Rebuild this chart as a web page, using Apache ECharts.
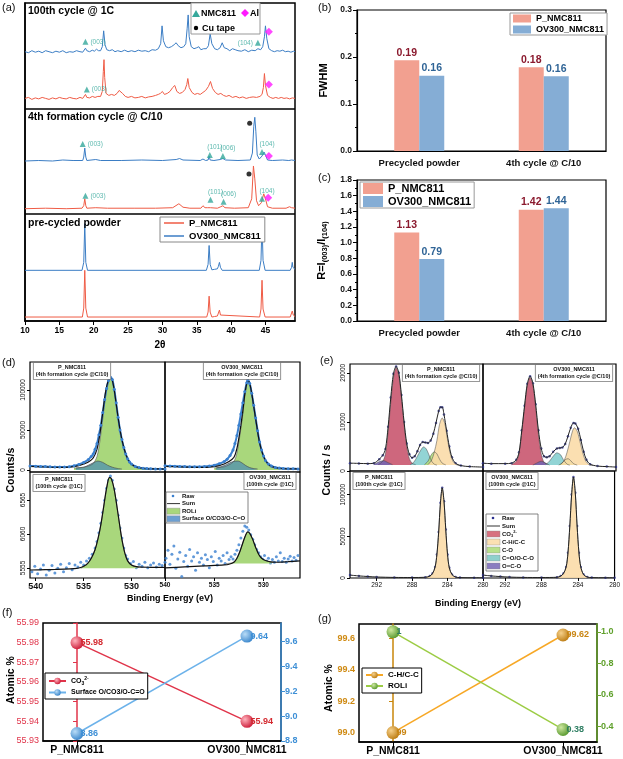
<!DOCTYPE html>
<html>
<head>
<meta charset="utf-8">
<title>NMC811 XRD / XPS</title>
<script src="https://cdn.jsdelivr.net/npm/echarts@6.0.0/dist/echarts.min.js"></script>
<style>
  body { margin: 0; background: #fff; }
  #wrap { position: relative; width: 623px; height: 759px; overflow: hidden; }
  .panel { position: absolute; }
</style>
</head>
<body>
<div id="wrap">
  <div class="panel" id="pa" style="left:0;top:0;width:300px;height:355px"></div>
  <div class="panel" id="pb" style="left:300px;top:0;width:323px;height:175px"></div>
  <div class="panel" id="pc" style="left:300px;top:170px;width:323px;height:175px"></div>
  <div class="panel" id="pd" style="left:0;top:355px;width:310px;height:262px"></div>
  <div class="panel" id="pe" style="left:310px;top:355px;width:313px;height:262px"></div>
  <div class="panel" id="pf" style="left:0;top:605px;width:310px;height:154px"></div>
  <div class="panel" id="pg" style="left:310px;top:605px;width:313px;height:154px"></div>
</div>
<script>
'use strict';

var FONT = 'Liberation Sans';

// ---------- (a) XRD patterns, [2theta, intensity a.u. above own baseline] ----------
var xrd100OV = [[10.0,1],[10.5,0],[11.0,2],[11.5,0.5],[12.0,1.5],[12.5,0],[13.0,2],[13.5,1],[14.0,0],[14.5,1.5],[15.0,0.5],[15.5,2],[16.0,0],[16.5,1],[17.0,0.5],[17.5,2],[18.0,1],[18.4,0.5],[18.6,2],[18.8,4.5],[19.0,2],[19.4,1],[19.8,2.5],[20.1,1.5],[20.4,3.5],[20.7,2],[21.0,2],[21.25,6],[21.45,22],[21.65,8],[21.9,3],[22.3,2],[22.7,3],[23.1,1],[23.5,2],[24.0,1],[24.5,2.5],[25.0,1],[25.5,2],[26.0,1],[26.5,2.5],[27.0,1.5],[27.5,2],[28.0,1],[28.5,3],[29.0,2.5],[29.4,4],[29.75,9],[29.95,27],[30.15,12],[30.5,6],[30.9,5],[31.3,6],[31.7,8],[32.0,10],[32.3,7],[32.7,5],[33.1,6],[33.4,9],[33.6,24],[33.75,38],[33.9,16],[34.2,6],[34.6,4],[35.0,5],[35.3,6],[35.6,3],[36.0,4],[36.4,4],[36.7,7],[36.95,19],[37.2,9],[37.6,4],[38.0,3],[38.4,5],[38.7,10],[39.0,5],[39.4,4],[39.8,2],[40.2,4],[40.6,3],[41.0,2],[41.5,1.5],[42.0,3],[42.5,1],[43.0,2.5],[43.5,2],[43.9,4],[44.3,3],[44.6,6],[44.85,16],[45.0,27],[45.2,14],[45.5,4],[45.9,2],[46.3,1],[46.7,2],[47.1,1.5],[47.5,2.5],[47.9,1],[48.3,1.5],[48.7,0.5],[49.1,1.5],[49.3,1]];
var xrd100P = [[10.0,1],[10.5,2],[11.0,0],[11.5,1.5],[12.0,0.5],[12.5,2],[13.0,1],[13.5,0],[14.0,1.5],[14.5,0.5],[15.0,2],[15.5,1],[16.0,0.5],[16.5,2],[17.0,1],[17.5,0.5],[18.0,2],[18.4,1],[18.6,2],[18.8,5],[19.0,2],[19.4,1.5],[19.8,3],[20.2,2],[20.6,3],[21.0,3],[21.25,8],[21.4,28],[21.5,40],[21.6,22],[21.8,6],[22.2,4],[22.6,5],[23.0,4],[23.4,6],[23.7,9],[23.9,10],[24.2,6],[24.6,3],[25.0,2],[25.5,3],[26.0,1.5],[26.5,2],[27.0,3],[27.5,1.5],[28.0,2.5],[28.5,3],[29.0,4],[29.4,5],[29.7,6],[30.0,8],[30.3,5],[30.7,6],[31.1,8],[31.5,12],[31.8,14],[32.1,8],[32.5,6],[32.9,7],[33.3,10],[33.55,15],[33.7,21],[33.9,12],[34.3,7],[34.7,5],[35.1,6],[35.5,5],[35.9,7],[36.3,9],[36.7,13],[37.0,18],[37.3,11],[37.7,7],[38.1,5],[38.5,6],[38.9,4],[39.3,3],[39.7,4],[40.2,2],[40.7,3],[41.2,1.5],[41.7,2.5],[42.2,1],[42.7,2],[43.2,2.5],[43.7,2],[44.2,3],[44.5,5],[44.7,12],[44.85,26],[45.0,14],[45.3,4],[45.7,2],[46.1,1],[46.5,2],[46.9,1],[47.3,2],[47.7,1],[48.1,1.5],[48.5,0.5],[48.9,1.5],[49.3,1]];
var xrd4thOV = [[10,0],[12,0.5],[14,0],[15.5,1],[17,0.5],[18.4,0.5],[18.55,4],[18.7,13],[18.85,4],[19.0,0.5],[20.3,1.5],[21,0.5],[24,0.5],[27,1],[30,0.5],[32,1.5],[32.5,2.5],[33,1],[35.5,0.5],[35.9,2],[36.3,0.5],[36.65,1],[36.8,5],[36.95,1],[37.5,0.5],[38.4,1.5],[38.8,2.5],[39.2,1],[41,0.5],[42.8,1],[43.1,8],[43.3,35],[43.45,44],[43.6,30],[43.8,6],[44.1,2],[44.5,5],[44.8,9],[45.0,6],[45.3,1],[46,0.5],[47.5,1],[48.4,0.5],[48.6,2],[48.8,1],[49.3,0.5]];
var xrd4thP = [[10,0],[13,0.5],[16,0],[18.3,0.5],[18.55,3],[18.7,10],[18.85,3],[19.0,0.5],[20.3,1],[22,0.5],[26,0.5],[29,0.5],[31.5,1],[32.4,5],[33,1.5],[34,0.5],[35.6,0.5],[35.9,3],[36.2,1],[36.6,1],[36.8,3],[37.0,1],[38.0,0.5],[38.5,2],[38.8,3],[39.1,1],[40.5,0.5],[42.5,1],[43.0,10],[43.25,43],[43.45,30],[43.7,8],[44.0,3],[44.4,6],[44.75,15],[45.0,10],[45.3,2],[46,0.5],[48,0.5],[48.5,2],[48.8,1],[49.3,0.5]];
var xrdPreOV = [[10,0],[18.3,0],[18.55,8],[18.7,47],[18.85,8],[19.1,0],[36.4,0],[36.65,6],[36.8,25],[36.95,6],[37.2,0.5],[37.6,1],[37.8,3],[38.0,1.5],[38.15,4],[38.3,8],[38.45,3],[38.7,0],[44.1,0],[44.35,10],[44.5,48],[44.65,10],[44.95,0],[48.6,0],[48.8,3],[48.9,8],[49.0,3],[49.3,1]];
var xrdPreP = [[10,0],[18.35,0],[18.55,9],[18.7,47],[18.85,9],[19.1,0],[36.45,0],[36.65,5],[36.8,21],[36.95,5],[37.2,0],[37.6,0.5],[37.8,2],[38.0,1],[38.15,3],[38.3,7],[38.45,2],[38.7,0],[44.15,0],[44.35,8],[44.5,37],[44.65,8],[44.95,0],[48.6,0],[48.8,2],[48.9,6],[49.05,2],[49.3,0.5]];
var xrdTraces = [xrd100OV, xrd100P, xrd4thOV, xrd4thP, xrdPreOV, xrdPreP];
var xrdNames = ['OV300_NMC811', 'P_NMC811', 'OV300_NMC811', 'P_NMC811', 'OV300_NMC811', 'P_NMC811'];
var xrdOffsets = [270, 223, 161, 113, 51, 4];
var xrdSectionEdges = [214, 108];
var xrdTitles = ['100th cycle @ 1C', '4th formation cycle @ C/10', 'pre-cycled powder'];

// reflection markers [2theta, stacked intensity]
var nmcMarks = [[18.8,281],[43.9,280],[19.0,233],[18.4,178],[36.9,167],[38.8,166],[44.5,170],[18.8,126],[37.0,122],[38.9,120],[44.5,123]];
var nmcLabels = ['(003)','(104)','(003)','(003)','(101)','(006)','(104)','(003)','(101)','(006)','(104)'];
var nmcLabelPos = ['right','left','right','right','top','top','top','right','top','top','top'];
var alMarks = [[45.5,291],[45.5,238],[45.5,166],[45.4,124]];
var cuMarks = [[42.7,199],[42.6,148]];

// ---------- (b), (c) bars ----------
var barCats = ['Precycled powder', '4th cycle @ C/10'];
var fwhmP = [0.193, 0.178];
var fwhmOV = [0.160, 0.159];
var ratioP = [1.13, 1.42];
var ratioOV = [0.79, 1.44];

// ---------- (d) O 1s, [eV, counts/s] ----------
var dSumP4 = [[540.6,4500],[539.5,4000],[538.5,3500],[537.5,3200],[536.5,3500],[536,4200],[535.5,5500],[535,7500],[534.5,10000],[534,15000],[533.6,26000],[533.3,45000],[533,72000],[532.7,98000],[532.4,113000],[532.2,116000],[532,112000],[531.8,100000],[531.6,83000],[531.3,58000],[531,38000],[530.6,20000],[530.2,10000],[529.8,5500],[529.3,3000],[528.5,1800],[527.5,1400],[526.5,1200]];
var dRoliP4 = [[536,2500],[535,3500],[534.5,5000],[534,8000],[533.6,17000],[533.3,36000],[533,64000],[532.7,93000],[532.4,111000],[532.2,115000],[532,111000],[531.8,99000],[531.6,82000],[531.3,57000],[531,37000],[530.6,19000],[530.2,9000],[529.8,4500],[529.3,2200],[528.5,1200],[528,1000]];
var dSurfP4 = [[535.8,2500],[535,3500],[534.5,6000],[534,9000],[533.5,11200],[533,9500],[532.5,6000],[532,3500],[531.5,2000],[531,1200]];
var dRawP4 = [[540.6,5000],[540,4800],[539.5,4500],[539,4300],[538.5,4000],[538,3800],[537.5,3700],[537,3800],[536.5,4200],[536,5200],[535.5,7000],[535,9500],[534.5,13000],[534.2,17000],[534,20000],[533.8,26000],[533.6,33000],[533.4,44000],[533.2,56000],[533,72000],[532.8,88000],[532.6,102000],[532.4,112000],[532.2,116000],[532,113000],[531.8,101000],[531.6,84000],[531.4,66000],[531.2,50000],[531,38000],[530.8,28000],[530.6,20000],[530.4,14000],[530.2,10000],[530,7500],[529.6,4500],[529.2,3000],[528.8,2300],[528.4,1900],[528,1600],[527.5,1400],[527,1300],[526.5,1200]];

var dSumOV4 = [[540,4500],[539,4200],[538,3700],[537,3400],[536,3300],[535.5,3600],[535,4300],[534.5,5500],[534,7500],[533.5,10500],[533,16000],[532.7,27000],[532.4,48000],[532.1,74000],[531.9,95000],[531.7,109000],[531.6,112000],[531.4,108000],[531.2,96000],[531,80000],[530.7,56000],[530.4,34000],[530,17000],[529.6,8500],[529.2,4500],[528.6,2500],[528,1800],[527,1400],[526.3,1200]];
var dRoliOV4 = [[535,2500],[534,4000],[533.5,6500],[533,11000],[532.7,21000],[532.4,43000],[532.1,70000],[531.9,92000],[531.7,107000],[531.6,111000],[531.4,107000],[531.2,95000],[531,79000],[530.7,55000],[530.4,33000],[530,16000],[529.6,7500],[529.2,3500],[528.6,1800],[528,1000]];
var dSurfOV4 = [[534.8,2500],[534,5500],[533.5,8500],[533,10800],[532.6,11200],[532.2,9000],[531.8,5500],[531.4,3000],[531,1800],[530.6,1200]];
var dRawOV4 = [[540,5200],[539.5,5000],[539,4800],[538.5,4500],[538,4300],[537.5,4100],[537,4000],[536.5,4100],[536,4300],[535.5,4900],[535,6000],[534.5,7800],[534,10500],[533.7,13500],[533.4,18000],[533.1,25000],[532.9,33000],[532.7,43000],[532.5,56000],[532.3,70000],[532.1,84000],[531.9,98000],[531.7,109000],[531.6,112500],[531.4,108000],[531.2,96000],[531,81000],[530.8,65000],[530.6,49000],[530.4,35000],[530.2,25000],[530,17500],[529.8,12000],[529.5,7500],[529.2,5000],[528.8,3200],[528.4,2400],[528,2000],[527.5,1700],[527,1500],[526.5,1300]];

var dSumP100 = [[540.6,5525],[539,5530],[538,5533],[537,5537],[536,5545],[535.5,5555],[535,5580],[534.6,5620],[534.2,5700],[533.8,5830],[533.5,5990],[533.2,6200],[532.9,6470],[532.6,6740],[532.3,6900],[532.1,6880],[531.8,6720],[531.5,6450],[531.2,6160],[531,5980],[530.7,5780],[530.4,5660],[530,5600],[529.5,5575],[529,5568],[528,5565],[527,5563],[526.5,5562]];
var dRoliP100 = [[535.3,5550],[535,5575],[534.6,5615],[534.2,5695],[533.8,5825],[533.5,5985],[533.2,6195],[532.9,6465],[532.6,6735],[532.3,6895],[532.1,6875],[531.8,6715],[531.5,6445],[531.2,6155],[531,5975],[530.7,5775],[530.4,5655],[530,5595],[529.5,5570],[529.2,5563]];
var dRawP100 = [[540.4,5500],[540.1,5580],[539.8,5470],[539.5,5540],[539.2,5600],[538.9,5450],[538.6,5520],[538.3,5590],[538,5480],[537.7,5550],[537.4,5610],[537.1,5500],[536.8,5560],[536.5,5620],[536.2,5530],[535.9,5600],[535.6,5570],[535.3,5640],[535,5600],[534.7,5660],[534.4,5700],[534.1,5760],[533.8,5850],[533.6,5950],[533.4,6080],[533.2,6220],[533,6380],[532.8,6560],[532.6,6740],[532.4,6860],[532.2,6920],[532,6860],[531.8,6730],[531.6,6560],[531.4,6340],[531.2,6150],[531,6000],[530.8,5850],[530.6,5740],[530.4,5690],[530.1,5620],[529.8,5650],[529.5,5560],[529.2,5610],[528.9,5580],[528.6,5640],[528.3,5560],[528,5600],[527.7,5630],[527.4,5570],[527.1,5610],[526.8,5590],[526.5,5640]];

var dSumOV100 = [[540,5555],[538,5570],[536,5585],[534,5600],[533.5,5610],[533,5640],[532.7,5700],[532.4,5800],[532.1,5930],[531.8,6050],[531.6,6090],[531.4,6070],[531.1,5980],[530.8,5860],[530.5,5760],[530.2,5700],[529.8,5665],[529.3,5645],[528.5,5640],[527.5,5648],[526.3,5660]];
var dRoliOV100 = [[533.8,5620],[533.3,5628],[533,5645],[532.7,5700],[532.4,5800],[532.1,5930],[531.8,6050],[531.6,6090],[531.4,6070],[531.1,5980],[530.8,5860],[530.5,5760],[530.2,5700],[529.8,5665],[529.3,5645],[529,5640]];
var dRawOV100 = [[539.9,5700],[539.7,5820],[539.5,5610],[539.3,5760],[539.1,5880],[538.9,5550],[538.7,5690],[538.5,5790],[538.3,5430],[538.1,5650],[537.9,5740],[537.7,5580],[537.5,5830],[537.3,5660],[537.1,5720],[536.9,5520],[536.7,5780],[536.5,5640],[536.3,5700],[536.1,5600],[535.9,5750],[535.7,5680],[535.5,5560],[535.3,5720],[535.1,5650],[534.9,5800],[534.7,5600],[534.5,5700],[534.3,5660],[534.1,5740],[533.9,5620],[533.7,5780],[533.5,5680],[533.3,5720],[533.1,5690],[532.9,5760],[532.7,5820],[532.5,5900],[532.3,6000],[532.1,6100],[531.9,6180],[531.7,6160],[531.5,6120],[531.3,6050],[531.1,5980],[530.9,5900],[530.7,5830],[530.5,5780],[530.3,5720],[530.1,5690],[529.9,5740],[529.7,5660],[529.5,5700],[529.3,5630],[529.1,5680],[528.9,5640],[528.7,5720],[528.5,5660],[528.3,5780],[528.1,5650],[527.9,5700],[527.7,5640],[527.5,5690],[527.3,5730],[527.1,5660],[526.9,5710],[526.7,5670],[526.5,5740]];

var dTitles = ['P_NMC811\n(4th formation cycle @C/10)', 'OV300_NMC811\n(4th formation cycle @C/10)', 'P_NMC811\n(100th cycle @1C)', 'OV300_NMC811\n(100th cycle @1C)'];

// ---------- (e) C 1s, [eV, counts/s] ----------
var eCO3P4 = [[291.8,1300],[291.3,2000],[291,3500],[290.7,8000],[290.4,14000],[290.1,19000],[289.8,21000],[289.5,19500],[289.2,15000],[288.9,9500],[288.6,5000],[288.3,2500],[288,1600],[287.6,1300]];
var eOCOP4 = [[292.3,1300],[291.7,1900],[291.2,2100],[290.7,1700],[290.2,1300]];
var eCOOP4 = [[288.2,1300],[287.8,1800],[287.4,3000],[287,4300],[286.7,4900],[286.4,4500],[286.1,3300],[285.8,2000],[285.5,1400],[285.2,1200]];
var eCOP4 = [[286.6,1300],[286.2,2000],[285.9,3100],[285.5,3900],[285.2,3500],[284.9,2400],[284.6,1600],[284.2,1250]];
var eCHP4 = [[286.2,1300],[285.8,2200],[285.5,3800],[285.2,6200],[284.9,9500],[284.6,10800],[284.3,9600],[284,6400],[283.7,3600],[283.4,2000],[283,1300],[282.5,1100]];
var eSumP4 = [[295,1600],[294,1550],[293,1500],[292.3,1600],[291.7,2400],[291.3,3200],[291,4500],[290.7,9000],[290.4,15000],[290.1,19800],[289.8,21300],[289.5,20000],[289.2,15500],[288.9,10000],[288.6,5600],[288.3,3400],[288,2700],[287.7,3000],[287.4,4000],[287.1,5300],[286.8,5900],[286.5,5800],[286.2,5700],[285.9,6200],[285.6,7600],[285.3,9800],[285,12200],[284.8,13000],[284.6,13000],[284.4,11500],[284.1,8200],[283.8,5000],[283.5,2800],[283.1,1600],[282.5,1100],[281.5,900],[280,800]];

var eCO3OV4 = [[291.3,1300],[290.8,2000],[290.5,3500],[290.2,8000],[289.9,13000],[289.6,17500],[289.3,19000],[289,17500],[288.7,13000],[288.4,7500],[288.1,3500],[287.8,1800],[287.4,1300]];
var eOCOOV4 = [[289,1200],[288.5,1700],[288.1,2000],[287.7,1700],[287.2,1200]];
var eCOOOV4 = [[287.6,1300],[287.2,2000],[286.8,3000],[286.4,3700],[286,3300],[285.7,2300],[285.3,1400],[285,1200]];
var eCOOV4 = [[286.2,1200],[285.8,1700],[285.5,2300],[285.2,2500],[284.9,2100],[284.6,1500],[284.2,1200]];
var eCHOV4 = [[286,1300],[285.6,2200],[285.3,3800],[285,6000],[284.7,8200],[284.5,8800],[284.2,8100],[283.9,6000],[283.6,3700],[283.3,2100],[282.9,1300],[282.4,1100]];
var eSumOV4 = [[294.4,1600],[293.5,1500],[292,1500],[291.3,1600],[290.8,2300],[290.5,3800],[290.2,8300],[289.9,13300],[289.6,17800],[289.3,19300],[289,17900],[288.7,13600],[288.4,8300],[288.1,4600],[287.8,3000],[287.5,2800],[287.2,3000],[286.8,3900],[286.4,4600],[286.1,4700],[285.8,4800],[285.5,5500],[285.2,7100],[284.9,8800],[284.6,9800],[284.4,9700],[284.1,8600],[283.8,6300],[283.5,3900],[283.2,2300],[282.8,1400],[282,1000],[281,900],[280,800]];

var eCHP100 = [[286.5,500],[286,2000],[285.7,5000],[285.4,13000],[285.2,28000],[285,55000],[284.8,90000],[284.6,108000],[284.4,92000],[284.2,58000],[284,28000],[283.8,12000],[283.5,4000],[283.1,1000],[282.6,300]];
var eSumP100 = [[295,3500],[294,2500],[293,1800],[292,1200],[290,700],[288,600],[286.5,900],[286,2300],[285.7,5300],[285.4,13300],[285.2,28300],[285,55300],[284.8,90300],[284.6,108300],[284.4,92300],[284.2,58300],[284,28300],[283.8,12300],[283.5,4300],[283.1,1200],[282.6,500],[281,300],[280,300]];
var eCHOV100 = [[286.3,500],[285.9,2000],[285.6,5000],[285.3,13000],[285.1,30000],[284.9,62000],[284.7,100000],[284.5,121000],[284.3,102000],[284.1,62000],[283.9,30000],[283.7,13000],[283.4,4000],[283,1000],[282.5,300]];
var eSumOV100 = [[294.4,3500],[293.5,2500],[292.5,1700],[291.5,1100],[290,700],[288,600],[286.3,900],[285.9,2300],[285.6,5300],[285.3,13300],[285.1,30300],[284.9,62300],[284.7,100300],[284.5,121300],[284.3,102300],[284.1,62300],[283.9,30300],[283.7,13300],[283.4,4300],[283,1200],[282.5,500],[281,300],[280,300]];

// ---------- (f), (g) atomic % ----------
var sampleCats = ['P_NMC811', 'OV300_NMC811'];
var fCO3 = [55.98, 55.94];
var fSurface = [8.86, 9.64];
var gCH = [99, 99.62];
var gROLi = [1, 0.38];

// ---------------- helpers ----------------
function shift(arr, off) {
  return arr.map(function (p) { return [p[0], p[1] + off]; });
}
function pairs(vals) {
  return vals.map(function (v, i) { return [i, v]; });
}
function plain(v) { return String(v); }
function sphere(c1, c2) {
  return {type: 'radial', x: 0.35, y: 0.35, r: 0.75, colorStops: [{offset: 0, color: c1}, {offset: 1, color: c2}]};
}
function txt(x, y, text, font, color, extra) {
  var s = {text: text, font: font, fill: color || '#000'};
  for (var k in (extra || {})) s[k] = extra[k];
  return {type: 'text', x: x, y: y, style: s, silent: true, z: 20};
}
function boxTitle(cx, top, text, font) {
  return txt(cx, top, text, font, '#111', {align: 'center', verticalAlign: 'top', backgroundColor: '#fff',
    borderColor: '#777', borderWidth: 0.8, padding: [1, 2], lineHeight: 7});
}
function legendBox(x, y, w, h, rows, step, font) {
  var els = [{type: 'rect', shape: {x: x, y: y, width: w, height: h}, style: {fill: '#fff', stroke: '#666', lineWidth: 0.8}, z: 20}];
  rows.forEach(function (r, i) {
    var cy = y + 4 + step * i;
    if (r.kind === 'dot') {
      els.push({type: 'circle', shape: {cx: x + 7, cy: cy, r: 1.3}, style: {fill: r.color}, z: 21});
    } else if (r.kind === 'line') {
      els.push({type: 'line', shape: {x1: x + 1, y1: cy, x2: x + 14, y2: cy}, style: {stroke: r.color, lineWidth: 1}, z: 21});
    } else {
      els.push({type: 'rect', shape: {x: x + 1, y: cy - 3, width: 13, height: 6}, style: {fill: r.color, stroke: '#888', lineWidth: 0.4}, z: 21});
    }
    els.push(txt(x + 16, cy, r.text, font, '#111', {verticalAlign: 'middle', rich: r.rich || {}}));
  });
  return els;
}
var rotTitle = function (x, y, text, size) {
  var t = txt(x, y, text, 'bold ' + size + 'px ' + FONT, '#000', {align: 'center', verticalAlign: 'middle'});
  t.rotation = Math.PI / 2;
  return t;
};
var panelLabel = function (x, y, text) {
  return txt(x, y, text, '11px ' + FONT, '#111', {verticalAlign: 'top'});
};

// ---------------- (a) ----------------
var chartA = echarts.init(document.getElementById('pa'));
var seriesA = xrdTraces.map(function (t, i) {
  var c = xrdNames[i] === 'P_NMC811' ? '#ef5b45' : '#3b7dc4';
  return {type: 'line', name: xrdNames[i], data: shift(t, xrdOffsets[i]), symbol: 'none',
    lineStyle: {width: 1, color: c}, itemStyle: {color: c}, silent: true};
});
seriesA[0].markLine = {silent: true, symbol: 'none', label: {show: false},
  lineStyle: {color: '#000', width: 1.5, type: 'solid'},
  data: xrdSectionEdges.map(function (v) { return {yAxis: v}; })};
seriesA.push({
  type: 'scatter', name: 'NMC811', symbol: 'triangle', symbolSize: 6, itemStyle: {color: '#35a89b'}, z: 5,
  data: nmcMarks.map(function (p, i) {
    var pos = nmcLabelPos[i];
    return {value: p, label: {show: true, formatter: nmcLabels[i], position: pos,
      offset: pos === 'top' ? [5, 1] : [0, 0]}};
  }),
  label: {color: '#35a89b', fontSize: 6.5, fontFamily: FONT, distance: 2}
});
seriesA.push({type: 'scatter', name: 'Al', symbol: 'diamond', symbolSize: 8, itemStyle: {color: '#ff1aff'}, data: alMarks, z: 5});
seriesA.push({type: 'scatter', name: 'Cu tape', symbol: 'circle', symbolSize: 5, itemStyle: {color: '#000'}, data: cuMarks, z: 5});

var graphicA = [panelLabel(2, 2, '(a)')];
[6, 112, 218].forEach(function (y, i) {
  graphicA.push(txt(28, y, xrdTitles[i], 'bold 10.5px ' + FONT, '#000', {verticalAlign: 'top'}));
});
graphicA.push({type: 'rect', shape: {x: 191, y: 3, width: 69, height: 31}, style: {fill: '#fff', stroke: '#999', lineWidth: 1}, z: 20});
graphicA.push({type: 'polygon', shape: {points: [[196, 10], [200, 17], [192, 17]]}, style: {fill: '#35a89b'}, z: 21});
graphicA.push(txt(201, 13.5, 'NMC811', 'bold 9px ' + FONT, '#000', {verticalAlign: 'middle'}));
graphicA.push({type: 'polygon', shape: {points: [[245, 9], [249, 13], [245, 17], [241, 13]]}, style: {fill: '#ff1aff'}, z: 21});
graphicA.push(txt(250, 13.5, 'Al', 'bold 9px ' + FONT, '#000', {verticalAlign: 'middle'}));
graphicA.push({type: 'circle', shape: {cx: 196, cy: 28, r: 2.2}, style: {fill: '#000'}, z: 21});
graphicA.push(txt(202, 28.5, 'Cu tape', 'bold 9px ' + FONT, '#000', {verticalAlign: 'middle'}));

chartA.setOption({
  animation: false,
  grid: {left: 25, right: 5, top: 3, bottom: 32, show: true, borderColor: '#000', borderWidth: 1.5},
  xAxis: {type: 'value', min: 10, max: 49.3, interval: 5,
    axisLine: {lineStyle: {color: '#000', width: 1.5}}, axisTick: {length: 4, lineStyle: {color: '#000'}},
    axisLabel: {showMaxLabel: false, color: '#000', fontWeight: 'bold', fontSize: 8.5, fontFamily: FONT, margin: 5},
    splitLine: {show: false},
    name: '2θ', nameLocation: 'middle', nameGap: 19,
    nameTextStyle: {fontWeight: 'bold', fontSize: 10, color: '#000', fontFamily: FONT}},
  yAxis: {type: 'value', min: 0, max: 320, axisLabel: {show: false}, axisTick: {show: false},
    axisLine: {show: true, lineStyle: {color: '#000', width: 1.5}}, splitLine: {show: false}},
  legend: {data: ['P_NMC811', 'OV300_NMC811'], orient: 'vertical', left: 160, top: 217, icon: 'rect',
    itemWidth: 20, itemHeight: 1.5, itemGap: 3, padding: [1, 4], borderColor: '#888', borderWidth: 1, backgroundColor: '#fff',
    textStyle: {fontWeight: 'bold', fontSize: 9.5, fontFamily: FONT, color: '#000'}},
  graphic: graphicA,
  series: seriesA
});

// ---------------- (b), (c) ----------------
function barChart(id, pVals, ovVals, yMax, yStep, yName, legendPos, legendFont, iconSize, label) {
  var chart = echarts.init(document.getElementById(id));
  function barSeries(name, vals, color, labelColor) {
    return {type: 'bar', name: name, data: vals, barWidth: 25, barGap: '0%',
      itemStyle: {color: color},
      label: {show: true, position: 'top', distance: 2, color: labelColor, fontWeight: 'bold', fontSize: 10.5, fontFamily: FONT,
        formatter: function (p) { return p.value.toFixed(2); }}};
  }
  chart.setOption({
    animation: false,
    grid: {left: 57, right: 17, top: 10, bottom: 24, show: true, borderColor: '#000', borderWidth: 1.2},
    xAxis: {type: 'category', data: barCats,
      axisLine: {lineStyle: {color: '#000', width: 1.2}}, axisTick: {alignWithLabel: true, length: 4, lineStyle: {color: '#000'}},
      axisLabel: {color: '#111', fontWeight: 'bold', fontSize: 9.5, fontFamily: FONT, margin: 7}},
    yAxis: {type: 'value', min: 0, max: yMax, interval: yStep,
      axisLine: {show: true, lineStyle: {color: '#000', width: 1.2}}, axisTick: {show: true, length: 4, lineStyle: {color: '#000'}},
      minorTick: {show: true, splitNumber: 2, length: 2, lineStyle: {color: '#000'}},
      splitLine: {show: false},
      axisLabel: {color: '#111', fontWeight: 'bold', fontSize: 8.5, fontFamily: FONT, margin: 5,
        formatter: function (v) { return v.toFixed(1); }},
      name: yName, nameLocation: 'middle', nameGap: 22,
      nameTextStyle: {fontWeight: 'bold', fontSize: 11, color: '#000', fontFamily: FONT,
        rich: {s: {fontSize: 7.5, fontWeight: 'bold', padding: [6, 0, 0, 0]}}}},
    legend: {data: ['P_NMC811', 'OV300_NMC811'], orient: 'vertical', left: legendPos[0], top: legendPos[1],
      icon: 'rect', itemWidth: iconSize[0], itemHeight: iconSize[1], itemGap: 2, padding: [1, 3],
      borderColor: '#999', borderWidth: 1, backgroundColor: '#fff',
      textStyle: {fontWeight: 'bold', fontSize: legendFont, fontFamily: FONT, color: '#000'}},
    graphic: [panelLabel(18, 2, label)],
    series: [barSeries('P_NMC811', pVals, '#f2a090', '#8b1a2e'), barSeries('OV300_NMC811', ovVals, '#85add5', '#2f6496')]
  });
  return chart;
}
var chartB = barChart('pb', fwhmP, fwhmOV, 0.3, 0.1, 'FWHM', [210, 13], 9, [18, 8], '(b)');
var chartC = barChart('pc', ratioP, ratioOV, 1.8, 0.2, 'R=I{s|(003)}/I{s|(104)}', [60, 12], 11, [20, 11], '(c)');

// ---------------- (d) ----------------
var chartD = echarts.init(document.getElementById('pd'));
var dGrids = [
  {left: 30, top: 7, width: 135, height: 110},
  {left: 165, top: 7, width: 135, height: 110},
  {left: 30, top: 117, width: 135, height: 106},
  {left: 165, top: 117, width: 135, height: 106}
];
var dXRange = [[526.5, 540.6], [526.3, 540], [526.5, 540.6], [526.3, 540]];
var dYRange = [[-2500, 135000], [-2500, 135000], [5406, 6981], [5406, 6981]];
var dYTicks = [[0, 50000, 100000], null, [5555, 6060, 6565], null];
var dRoli = [dRoliP4, dRoliOV4, dRoliP100, dRoliOV100];
var dSurf = [dSurfP4, dSurfOV4, null, null];
var dRaw = [dRawP4, dRawOV4, dRawP100, dRawOV100];
var dSum = [dSumP4, dSumOV4, dSumP100, dSumOV100];
var dOrigin = ['auto', 'auto', 5550, 5620];

var seriesD = [];
for (var i = 0; i < 4; i++) {
  seriesD.push({type: 'line', name: 'ROLi', xAxisIndex: i, yAxisIndex: i, data: dRoli[i], symbol: 'none', smooth: 0.3,
    lineStyle: {color: '#555', width: 0.6}, itemStyle: {color: '#a9d77c'},
    areaStyle: {color: '#a9d77c', opacity: 1, origin: dOrigin[i]}, silent: true});
  if (dSurf[i]) {
    seriesD.push({type: 'line', name: 'Surface O/CO3/O-C=O', xAxisIndex: i, yAxisIndex: i, data: dSurf[i], symbol: 'none', smooth: 0.3,
      lineStyle: {color: '#444', width: 0.6}, itemStyle: {color: '#4f8fb0'},
      areaStyle: {color: '#4f8fb0', opacity: 0.75}, silent: true});
  }
  if (i < 2) {
    seriesD.push({type: 'line', name: 'Raw', xAxisIndex: i, yAxisIndex: i, data: dRaw[i], symbol: 'circle', symbolSize: 3,
      showSymbol: true, smooth: 0.3, lineStyle: {color: '#3a80cf', width: 2}, itemStyle: {color: '#3a80cf'}, silent: true});
  } else {
    seriesD.push({type: 'scatter', name: 'Raw', xAxisIndex: i, yAxisIndex: i, data: dRaw[i], symbolSize: 3,
      itemStyle: {color: '#3a80cf'}, silent: true});
  }
  seriesD.push({type: 'line', name: 'Sum', xAxisIndex: i, yAxisIndex: i, data: dSum[i], symbol: 'none', smooth: 0.3,
    lineStyle: {color: '#111', width: 1.2}, silent: true});
}

var graphicD = [panelLabel(2, 2, '(d)'), rotTitle(11, 115, 'Counts/s', 10.5),
  txt(170, 244, 'Binding Energy (eV)', 'bold 9px ' + FONT, '#000', {align: 'center', verticalAlign: 'middle'}),
  boxTitle(72, 8, dTitles[0], 'bold 5.5px ' + FONT), boxTitle(242, 8, dTitles[1], 'bold 5.5px ' + FONT),
  boxTitle(59, 120, dTitles[2], 'bold 5.5px ' + FONT), boxTitle(270, 118, dTitles[3], 'bold 5.5px ' + FONT)];
graphicD = graphicD.concat(legendBox(166, 137, 82, 31, [
  {kind: 'dot', color: '#3a80cf', text: 'Raw'},
  {kind: 'line', color: '#333', text: 'Sum'},
  {kind: 'rect', color: '#a9d77c', text: 'ROLi'},
  {kind: 'rect', color: '#6c9fd1', text: 'Surface O/CO3/O-C=O'}
], 7.6, 'bold 6px ' + FONT));

chartD.setOption({
  animation: false,
  grid: dGrids.map(function (g) {
    return {left: g.left, top: g.top, width: g.width, height: g.height, show: true, borderColor: '#000', borderWidth: 1.2};
  }),
  xAxis: dXRange.map(function (r, k) {
    var bottom = k >= 2;
    return {type: 'value', gridIndex: k, min: r[0], max: r[1], inverse: true, splitLine: {show: false},
      axisLine: {show: false},
      axisTick: {show: bottom, length: 3, customValues: [540, 535, 530], lineStyle: {color: '#000'}},
      axisLabel: {show: bottom, customValues: [540, 535, 530], color: '#111', fontFamily: FONT, fontWeight: 'bold',
        fontSize: k === 2 ? 9 : 6.5, margin: 4, formatter: plain}};
  }),
  yAxis: dYRange.map(function (r, k) {
    var left = dYTicks[k] !== null;
    return {type: 'value', gridIndex: k, min: r[0], max: r[1], splitLine: {show: false}, axisLine: {show: false},
      axisTick: {show: left, length: 3, customValues: dYTicks[k] || [], lineStyle: {color: '#000'}},
      axisLabel: {show: left, customValues: dYTicks[k] || [], rotate: 90, color: '#111', fontSize: 6.5, fontFamily: FONT, margin: 3,
        formatter: plain}};
  }),
  graphic: graphicD,
  series: seriesD
});

// ---------------- (e) ----------------
var chartE = echarts.init(document.getElementById('pe'));
var eGrids = [
  {left: 40, top: 9, width: 133, height: 107},
  {left: 173, top: 9, width: 133, height: 107},
  {left: 40, top: 116, width: 133, height: 107},
  {left: 173, top: 116, width: 133, height: 107}
];
var eXRange = [[280, 295], [280, 294.4], [280, 295], [280, 294.4]];
var eYRange = [[0, 21800], [0, 21800], [0, 128500], [0, 128500]];
var eYTicks = [[0, 10000, 20000], null, [0, 50000, 100000], null];
var eOrigin = [1200, 1200, 'auto', 'auto'];
var eComponents = [
  {name: 'CO3', color: '#c9566f', data: [eCO3P4, eCO3OV4, null, null]},
  {name: 'O=C-O', color: '#7766b0', data: [eOCOP4, eOCOOV4, null, null]},
  {name: 'C=O/O-C-O', color: '#86cfd0', data: [eCOOP4, eCOOOV4, null, null]},
  {name: 'C-O', color: '#b3de7f', data: [eCOP4, eCOOV4, null, null]},
  {name: 'C-H/C-C', color: '#fbdca8', data: [eCHP4, eCHOV4, eCHP100, eCHOV100]}
];
var eSum = [eSumP4, eSumOV4, eSumP100, eSumOV100];

var seriesE = [];
for (var j = 0; j < 4; j++) {
  eComponents.forEach(function (c) {
    if (!c.data[j]) return;
    seriesE.push({type: 'line', name: c.name, xAxisIndex: j, yAxisIndex: j, data: c.data[j], symbol: 'none', smooth: 0.3,
      lineStyle: {color: '#444', width: 0.5}, itemStyle: {color: c.color},
      areaStyle: {color: c.color, opacity: 0.9, origin: eOrigin[j]}, silent: true});
  });
  seriesE.push({type: 'line', name: 'Sum', xAxisIndex: j, yAxisIndex: j, data: eSum[j], symbol: 'none', smooth: 0.3,
    lineStyle: {color: '#222', width: 1}, silent: true});
  seriesE.push({type: 'scatter', name: 'Raw', xAxisIndex: j, yAxisIndex: j, data: eSum[j], symbolSize: 2.5,
    itemStyle: {color: '#2b2f8f'}, silent: true});
}

var coRich = {b: {font: 'bold 4px ' + FONT, padding: [4, 0, 0, 0]}, t: {font: 'bold 4px ' + FONT, padding: [0, 0, 4, 0]}};
var graphicE = [panelLabel(10, 0, '(e)'), rotTitle(17, 115, 'Counts / s', 10.5),
  txt(168, 249, 'Binding Energy (eV)', 'bold 9px ' + FONT, '#000', {align: 'center', verticalAlign: 'middle'}),
  boxTitle(131, 10, dTitles[0], 'bold 5.5px ' + FONT), boxTitle(264, 10, dTitles[1], 'bold 5.5px ' + FONT),
  boxTitle(69, 118, dTitles[2], 'bold 5.5px ' + FONT), boxTitle(202, 118, dTitles[3], 'bold 5.5px ' + FONT)];
graphicE = graphicE.concat(legendBox(176, 159, 52, 57, [
  {kind: 'dot', color: '#2b2f8f', text: 'Raw'},
  {kind: 'line', color: '#333', text: 'Sum'},
  {kind: 'rect', color: '#d7707f', text: 'CO{b|3}{t|2-}', rich: coRich},
  {kind: 'rect', color: '#fbe0b2', text: 'C-H/C-C'},
  {kind: 'rect', color: '#b8e08a', text: 'C-O'},
  {kind: 'rect', color: '#8fd0cc', text: 'C=O/O-C-O'},
  {kind: 'rect', color: '#8a7cc0', text: 'O=C-O'}
], 8, 'bold 6px ' + FONT));

chartE.setOption({
  animation: false,
  grid: eGrids.map(function (g) {
    return {left: g.left, top: g.top, width: g.width, height: g.height, show: true, borderColor: '#000', borderWidth: 1.2};
  }),
  xAxis: eXRange.map(function (r, k) {
    var bottom = k >= 2;
    return {type: 'value', gridIndex: k, min: r[0], max: r[1], inverse: true, splitLine: {show: false}, axisLine: {show: false},
      axisTick: {show: bottom, length: 3, customValues: [292, 288, 284, 280], lineStyle: {color: '#000'}},
      axisLabel: {show: bottom, customValues: [292, 288, 284, 280], color: '#111', fontFamily: FONT, fontSize: 6.5, margin: 4,
        formatter: plain}};
  }),
  yAxis: eYRange.map(function (r, k) {
    var left = eYTicks[k] !== null;
    return {type: 'value', gridIndex: k, min: r[0], max: r[1], splitLine: {show: false}, axisLine: {show: false},
      axisTick: {show: left, length: 3, customValues: eYTicks[k] || [], lineStyle: {color: '#000'}},
      axisLabel: {show: left, customValues: eYTicks[k] || [], rotate: 90, color: '#111', fontSize: 6.5, fontFamily: FONT, margin: 3,
        formatter: plain}};
  }),
  graphic: graphicE,
  series: seriesE
});

// ---------------- (f), (g) ----------------
function atomicChart(id, cfg) {
  var chart = echarts.init(document.getElementById(id));
  function side(k) {
    var a = cfg.axes[k];
    return {type: 'value', position: k === 0 ? 'left' : 'right', min: a.min, max: a.max, splitLine: {show: false},
      axisLine: {show: true, lineStyle: {color: a.line, width: 1.5}},
      axisTick: {show: true, length: 4, customValues: a.ticks, lineStyle: {color: a.line}},
      axisLabel: {customValues: a.ticks, color: a.label, fontSize: 9, fontWeight: a.bold ? 'bold' : 'normal', fontFamily: FONT, margin: 4,
        formatter: function (v) { return v.toFixed(a.digits); }}};
  }
  function lineSeries(s, k) {
    return {type: 'line', name: s.name, yAxisIndex: k, data: pairs(s.values), symbol: 'circle', symbolSize: 13,
      lineStyle: {color: s.line, width: 1.5}, itemStyle: {color: sphere(s.light, s.dark)},
      label: {show: true, position: 'right', distance: -3, color: s.labelColor, fontSize: 9, fontWeight: 'bold', fontFamily: FONT,
        formatter: function (p) { return String(p.value[1]); }}};
  }
  chart.setOption({
    animation: false,
    grid: {left: cfg.grid[0], top: cfg.grid[1], width: 238, height: 118, show: true, borderColor: '#000', borderWidth: 1.5},
    xAxis: {type: 'value', min: -0.2, max: 1.2, splitLine: {show: false},
      axisLine: {lineStyle: {color: '#000', width: 1.5}},
      axisTick: {customValues: [0, 1], length: 4, lineStyle: {color: '#000'}},
      axisLabel: {customValues: [0, 1], color: '#000', fontWeight: 'bold', fontSize: 10.5, fontFamily: FONT, margin: 4,
        formatter: function (v) { return sampleCats[v]; }}},
    yAxis: [side(0), side(1)],
    legend: {data: [cfg.series[0].name, cfg.series[1].name], orient: 'vertical', left: cfg.legend[0], top: cfg.legend[1],
      itemWidth: 17, itemHeight: 8, itemGap: 3, padding: [3, 3], borderColor: '#000', borderWidth: 1, backgroundColor: '#fff',
      formatter: function (n) { return n === 'CO3' ? 'CO{b|3}{t|2-}' : n; },
      textStyle: {fontSize: cfg.legendFont, fontWeight: 'bold', fontFamily: FONT, color: '#000',
        rich: {b: {fontSize: 5, fontWeight: 'bold', padding: [5, 0, 0, 0]}, t: {fontSize: 5, fontWeight: 'bold', padding: [0, 0, 5, 0]}}}},
    graphic: [panelLabel(cfg.labelPos[0], cfg.labelPos[1], cfg.label), rotTitle(cfg.titlePos[0], cfg.titlePos[1], 'Atomic %', 10.5)],
    series: [lineSeries(cfg.series[0], 0), lineSeries(cfg.series[1], 1)]
  });
  return chart;
}

var chartF = atomicChart('pf', {
  grid: [43, 18], legend: [45, 68], legendFont: 7, label: '(f)', labelPos: [2, 2], titlePos: [11, 75],
  axes: [
    {min: 55.93, max: 55.99, ticks: [55.93, 55.94, 55.95, 55.96, 55.97, 55.98, 55.99], line: '#e0344a', label: '#e0344a', digits: 2, bold: false},
    {min: 8.8, max: 9.745, ticks: [8.8, 9.0, 9.2, 9.4, 9.6], line: '#3d8fd6', label: '#3d8fd6', digits: 1, bold: true}
  ],
  series: [
    {name: 'CO3', values: fCO3, line: '#e0344a', light: '#ffb3bd', dark: '#c8102e', labelColor: '#d42a30'},
    {name: 'Surface O/CO3/O-C=O', values: fSurface, line: '#6cb2ea', light: '#b9dcf7', dark: '#2f7fc8', labelColor: '#3d8fd6'}
  ]
});

var chartG = atomicChart('pg', {
  grid: [49, 19], legend: [52, 63], legendFont: 8, label: '(g)', labelPos: [8, 8], titlePos: [19, 83],
  axes: [
    {min: 98.94, max: 99.69, ticks: [99.0, 99.2, 99.4, 99.6], line: '#c8860a', label: '#cf8a12', digits: 1, bold: true},
    {min: 0.30, max: 1.05, ticks: [0.4, 0.6, 0.8, 1.0], line: '#6aa52b', label: '#5fa02b', digits: 1, bold: true}
  ],
  series: [
    {name: 'C-H/C-C', values: gCH, line: '#f7a826', light: '#f6d08a', dark: '#b8760a', labelColor: '#c98512'},
    {name: 'ROLi', values: gROLi, line: '#9ccc44', light: '#cfe8a0', dark: '#4f9326', labelColor: '#2f7f63'}
  ]
});
</script>
</body>
</html>
